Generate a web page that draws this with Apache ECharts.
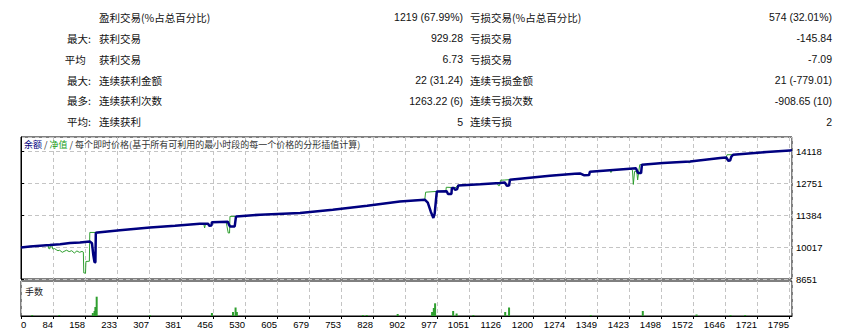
<!DOCTYPE html>
<html><head><meta charset="utf-8">
<script src="https://cdn.jsdelivr.net/npm/echarts@6/dist/echarts.min.js"></script>
<style>html,body{margin:0;padding:0;background:#fff}#c{width:851px;height:336px}</style>
</head><body><div id="c"></div>
<script>
// ---- statistics table ----
const leftPrefix = ['', '最大:', '平均\u2002', '最大:', '最多:', '平均:'];
const leftLabel = ['盈利交易(%占总百分比)', '获利交易', '获利交易', '连续获利金额', '连续获利次数', '连续获利'];
const leftValue = ['1219 (67.99%)', '929.28', '6.73', '22 (31.24)', '1263.22 (6)', '5'];
const rightLabel = ['亏损交易(%占总百分比)', '亏损交易', '亏损交易', '连续亏损金额', '连续亏损次数', '连续亏损'];
const rightValue = ['574 (32.01%)', '-145.84', '-7.09', '21 (-779.01)', '-908.65 (10)', '2'];

// ---- axes ----
const xTickLabels = ['0','84','158','233','307','381','456','530','605','679','753','828','902','977','1051','1126','1200','1274','1349','1423','1498','1572','1646','1721','1795'];
const yTickLabels = ['8651','10017','11384','12751','14118'];

// ---- balance curve (trade index, balance) ----
const balanceX = [0,21,44,67,91,114,137,160,165,168,171,173,174,184,230,300,358,416,435,438,443,444,481,484,486,497,500,556,649,725,805,881,939,946,953,959,962,967,990,993,1001,1002,1007,1009,1014,1017,1068,1114,1125,1130,1135,1137,1230,1288,1300,1309,1321,1323,1416,1430,1435,1442,1444,1493,1556,1626,1640,1645,1649,1652,1656,1734,1788,1793];
const balanceY = [10000,10044,10074,10103,10138,10189,10215,10257,10180,9700,9360,9370,10629,10650,10735,10855,10928,11013,11013,10928,10940,11078,11099,10960,10898,10898,11325,11398,11471,11612,11782,11966,12039,11911,11526,11257,11441,12393,12400,12282,12282,12539,12539,12466,12480,12650,12700,12752,12770,12637,12640,12893,13064,13149,13160,13085,13090,13235,13363,13380,13179,13179,13534,13607,13675,13820,13840,13705,13710,13876,13961,14076,14145,14150];

// ---- equity curve (trade index, equity) ----
const equityX = [0,21,44,60,63,64,67,68,72,74,78,82,86,90,96,100,106,112,118,124,130,136,142,145,146,150,151,159,160,174,184,230,300,358,416,425,427,429,435,438,443,444,477,479,482,485,486,500,556,649,725,805,881,939,941,967,988,989,1002,1007,1009,1017,1068,1108,1110,1113,1115,1125,1135,1137,1230,1288,1300,1305,1309,1321,1323,1370,1372,1376,1416,1422,1424,1427,1432,1434,1437,1439,1444,1493,1552,1554,1558,1626,1640,1642,1656,1734,1788,1793];
const equityY = [10000,10044,10074,10090,10100,9960,9940,10060,10070,9930,9950,9900,9860,9880,9790,9830,9880,9820,9860,9760,9850,9790,9830,9800,8910,8900,9400,9410,10640,10640,10650,10735,10855,10928,11013,11013,10830,11000,11013,10928,10940,11078,11099,10900,10616,10616,11325,11325,11398,11471,11612,11782,11966,12039,12360,12393,12400,12570,12560,12560,12540,12650,12700,12740,12640,12640,12868,12880,12893,12893,13064,13149,13160,13100,13085,13090,13235,13300,13200,13310,13363,13300,12690,13250,13250,12880,13300,13534,13534,13607,13670,13600,13680,13820,13840,13960,13961,14076,14145,14150];

// ---- volume (trade index, lots) ----
const volumeX = [26,89,167,171,173,176,300,444,493,499,502,795,804,876,956,960,963,1005,1013,1052,1126,1135,1325,1446,1571,1650,1684];
const volumeLots = [0.1,0.1,0.3,0.5,0.9,1.93,0.1,0.3,0.4,0.85,0.4,0.1,0.1,0.2,0.4,0.8,1.27,0.5,0.25,0.1,0.4,0.85,0.1,0.5,0.15,0.1,0.1];

const xMax = 1793;
const xStep = xMax * 32 / 771;
const yMin = 8651, yStep = 1367;
const yMax = yMin + yStep * 142 / 32;

const NAVY = '#000080', GREEN = '#2f9f2f';
const CJK = '"Noto Sans CJK SC", sans-serif';
const LAT = '"Liberation Sans", Arial, sans-serif';

const pair = (xs, ys) => xs.map((x, i) => [x, ys[i]]);

const graphic = [];
for (let i = 0; i < leftLabel.length; i++) {
  const y = 17.3 + 20.9 * i;
  const t = (x, text, align, fam) => graphic.push({ type: 'text', x: x, y: y, silent: true,
    style: { text: text, align: align, verticalAlign: 'middle', fontSize: 10.5, fontFamily: fam, fill: '#111' } });
  t(91, leftPrefix[i], 'right', CJK);
  t(99, leftLabel[i], 'left', CJK);
  t(463, leftValue[i], 'right', LAT);
  t(470, rightLabel[i], 'left', CJK);
  t(832, rightValue[i], 'right', LAT);
}
graphic.push({ type: 'text', x: 25, y: 291, silent: true,
  style: { text: '手数', align: 'left', verticalAlign: 'middle', fontSize: 9, fontFamily: CJK, fill: '#222' } });

const xLabelFmt = v => { const k = Math.round(v / xStep); return (Math.abs(v - k * xStep) < 0.5 && k < xTickLabels.length) ? xTickLabels[k] : ''; };
const yLabelFmt = v => { const k = Math.round((v - yMin) / yStep); return (Math.abs(v - yMin - k * yStep) < 0.5 && k < yTickLabels.length) ? yTickLabels[k] : ''; };

const split = { show: true, lineStyle: { color: '#c4c4c4', type: [4, 3], width: 1 } };

const chart = echarts.init(document.getElementById('c'), null, { renderer: 'svg' });
chart.setOption({
  animation: false,
  backgroundColor: '#fff',
  title: {
    left: 24, top: 140, padding: 0,
    text: '{a|余额} / {b|净值} / 每个即时价格(基于所有可利用的最小时段的每一个价格的分形插值计算)',
    textStyle: { fontSize: 9, fontWeight: 'normal', fontFamily: CJK, color: '#333',
      rich: { a: { color: NAVY, fontSize: 9, fontFamily: CJK }, b: { color: '#1aa01a', fontSize: 9, fontFamily: CJK } } }
  },
  graphic: graphic,
  grid: [
    { left: 21, top: 137, width: 771, height: 142, show: true, borderColor: '#000', borderWidth: 1 },
    { left: 21, top: 281, width: 771, height: 35, show: true, borderColor: '#000', borderWidth: 1 }
  ],
  xAxis: [
    { type: 'value', gridIndex: 0, min: 0, max: xMax, interval: xStep,
      axisLabel: { show: false }, axisTick: { show: false }, axisLine: { show: false }, splitLine: split },
    { type: 'value', gridIndex: 1, min: 0, max: xMax, interval: xStep,
      axisLine: { show: true, lineStyle: { color: '#000' } },
      axisTick: { show: true, length: 3, lineStyle: { color: '#000' } },
      axisLabel: { formatter: xLabelFmt, align: 'right', alignMinLabel: 'left', margin: 3, fontSize: 9.5, fontFamily: LAT, color: '#000', showMaxLabel: false },
      splitLine: split }
  ],
  yAxis: [
    { type: 'value', gridIndex: 0, position: 'right', min: yMin, max: yMax, interval: yStep,
      axisLine: { show: true, lineStyle: { color: '#000' } },
      axisTick: { show: true, length: 3, lineStyle: { color: '#000' } },
      axisLabel: { formatter: yLabelFmt, margin: 4, fontSize: 9.5, fontFamily: LAT, color: '#000', showMaxLabel: false },
      splitLine: split },
    { type: 'value', gridIndex: 1, min: 0, max: 3.5, show: false, splitLine: { show: false } }
  ],
  series: [
    { type: 'line', xAxisIndex: 0, yAxisIndex: 0, data: pair(equityX, equityY), symbol: 'none',
      lineStyle: { color: GREEN, width: 1 }, z: 2 },
    { type: 'line', xAxisIndex: 0, yAxisIndex: 0, data: pair(balanceX, balanceY), symbol: 'none',
      lineStyle: { color: NAVY, width: 2.5 }, z: 3 },
    { type: 'bar', xAxisIndex: 1, yAxisIndex: 1, data: pair(volumeX, volumeLots), barWidth: 2,
      itemStyle: { color: GREEN }, z: 2 }
  ]
});
</script></body></html>
